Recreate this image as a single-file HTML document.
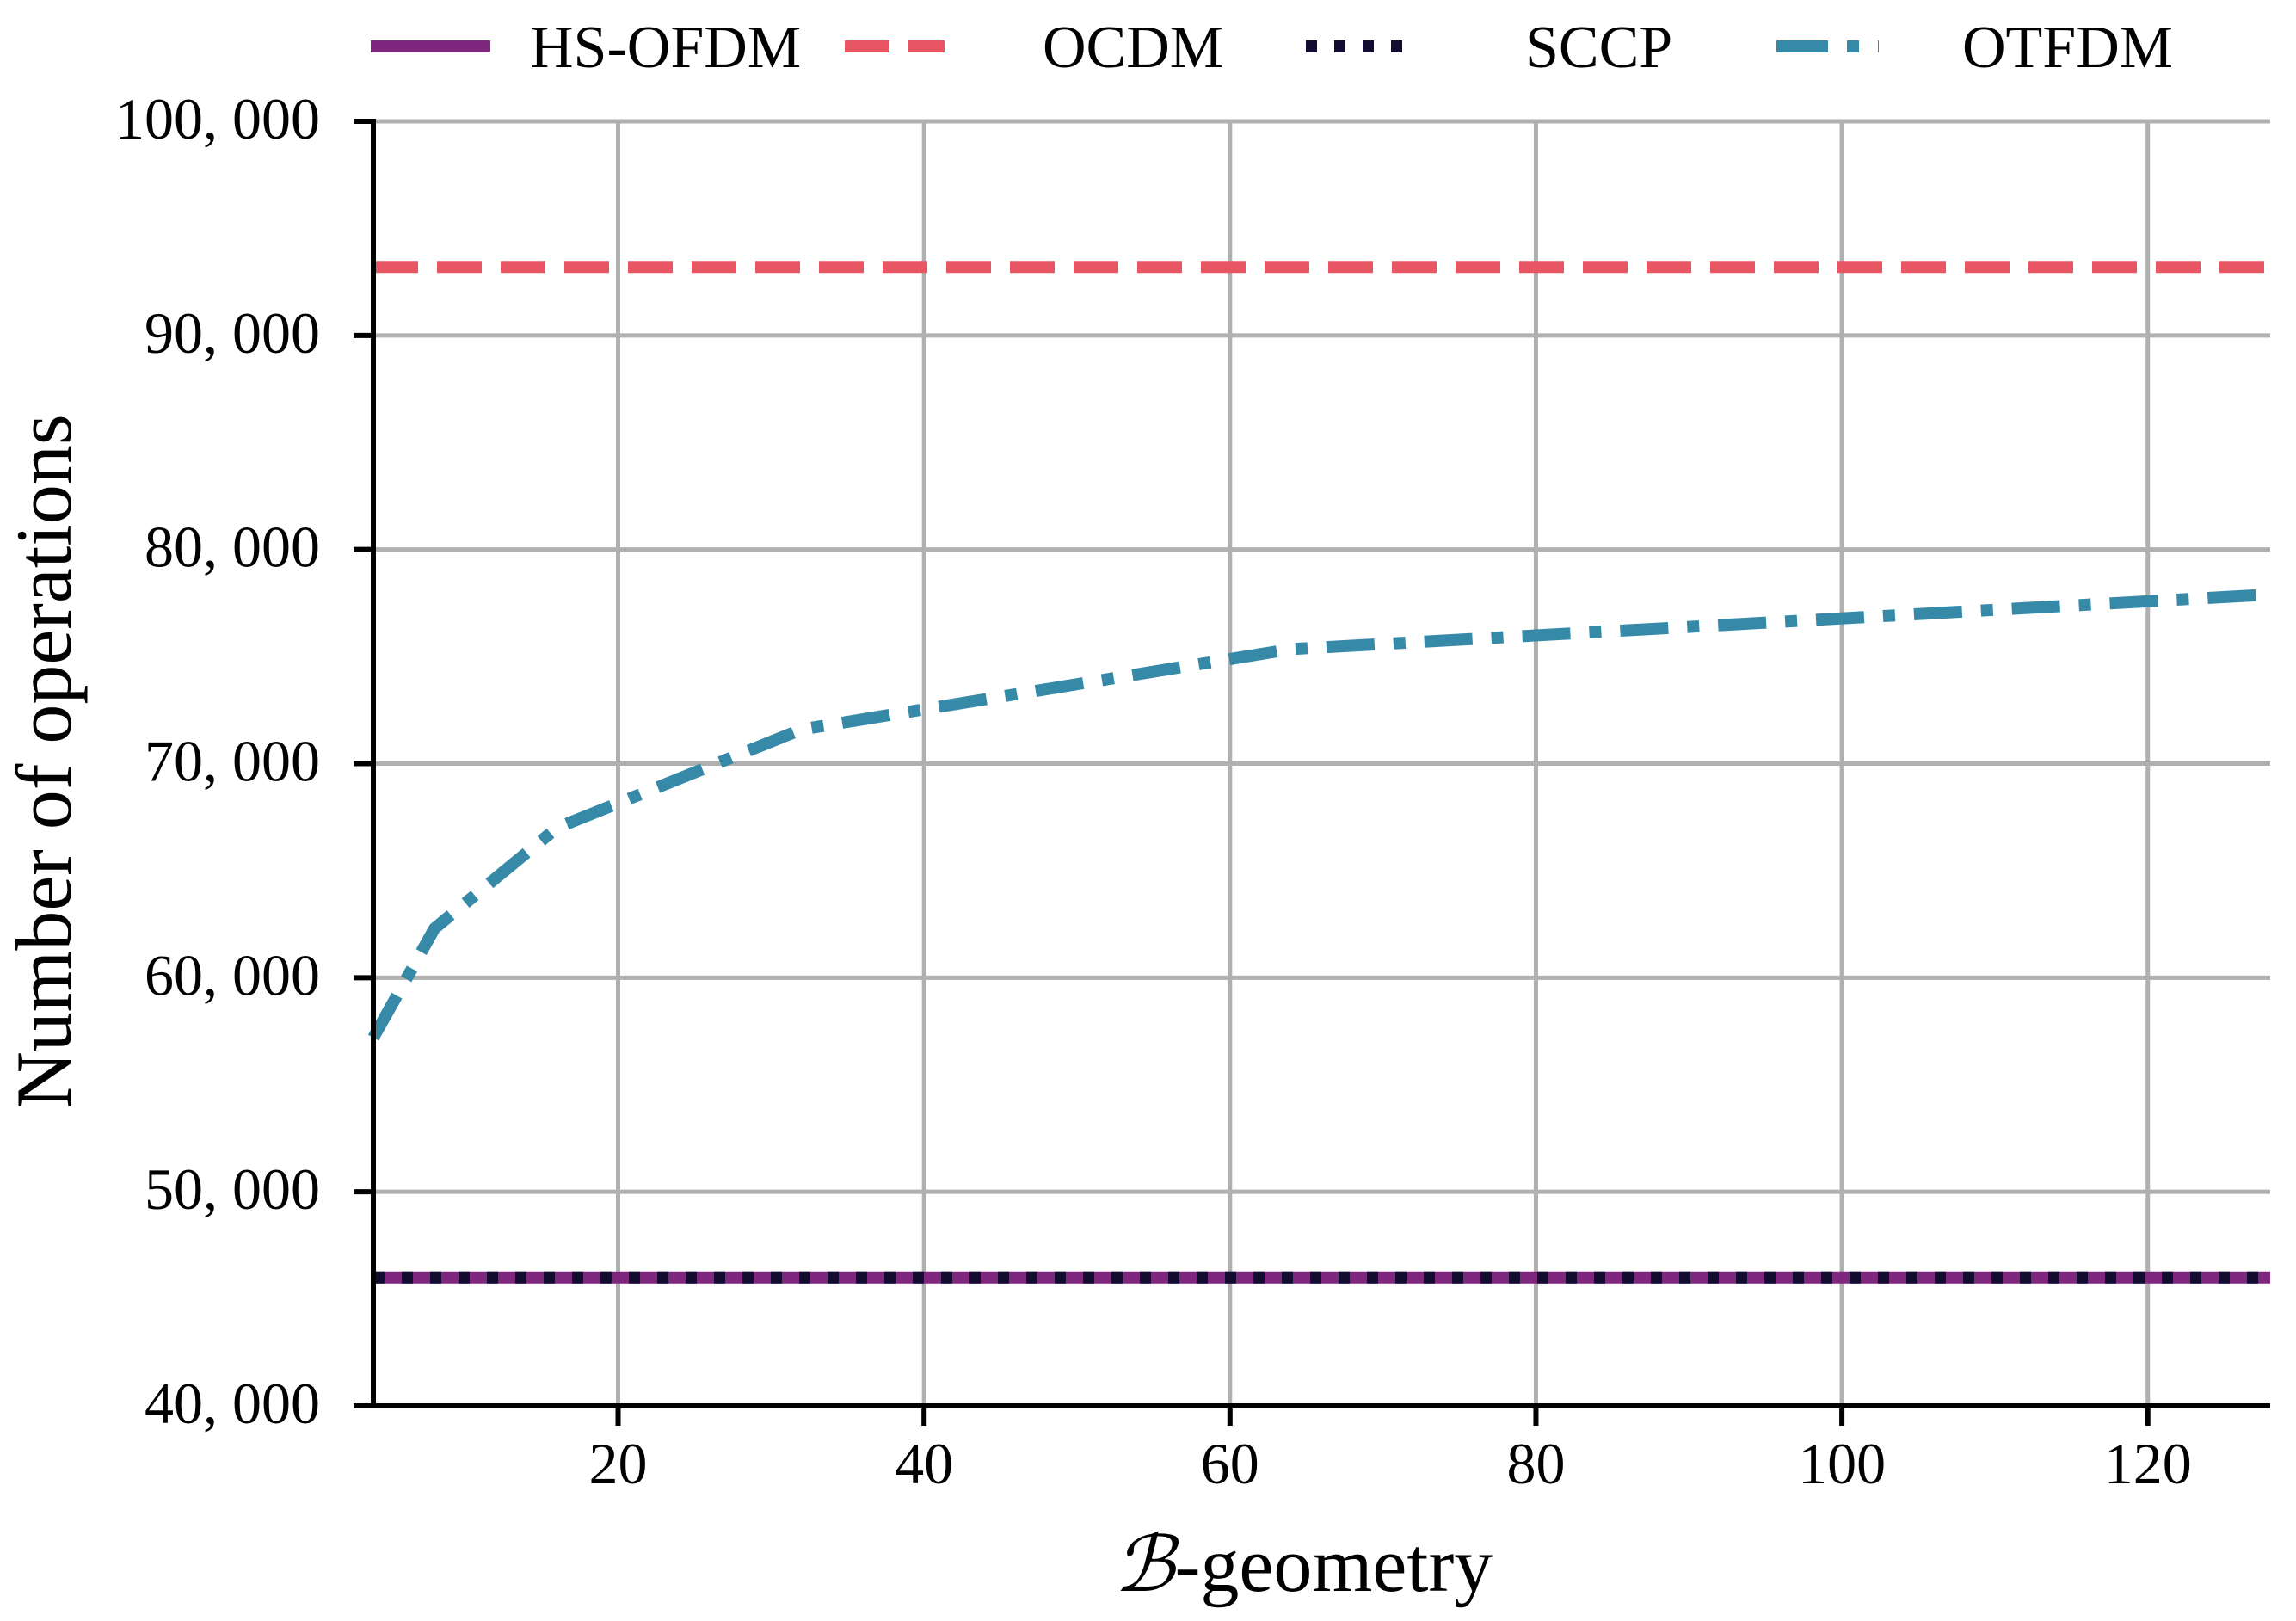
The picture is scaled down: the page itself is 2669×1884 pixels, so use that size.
<!DOCTYPE html>
<html><head><meta charset="utf-8"><style>
html,body{margin:0;padding:0;background:#fff;}
svg{display:block;font-family:"Liberation Serif",serif;}
</style></head><body>
<svg id="chart" width="2669" height="1884" viewBox="0 0 2669 1884" xmlns="http://www.w3.org/2000/svg">
<g id="grid"></g>
<g id="series"></g>
<g id="axes"></g>
<text x="1515" y="1849" font-size="90" text-anchor="middle"><tspan font-style="italic">ℬ</tspan>-geometry</text>
<text transform="translate(82,885) rotate(-90)" font-size="92" text-anchor="middle">Number of operations</text>
<g id="legend"></g>
</svg>
<script>
const xTicks = [20, 40, 60, 80, 100, 120];
const yTicks = [40000, 50000, 60000, 70000, 80000, 90000, 100000];
const seriesNames = ["HS-OFDM", "OCDM", "SCCP", "OTFDM"];
const hsX = [4, 128];
const hsY = [46000, 46000];
const ocdmX = [4, 128];
const ocdmY = [93200, 93200];
const sccpX = [4, 128];
const sccpY = [46000, 46000];
const otfdmX = [4, 8, 16, 32, 64, 128];
const otfdmY = [57200, 62300, 67000, 71600, 75350, 77900];

const NS = "http://www.w3.org/2000/svg";
const L = 434, R = 2639, T = 141, B = 1634;
const xMin = 4, xMax = 128, yMin = 40000, yMax = 100000;
function xs(v){ return L + (v - xMin) / (xMax - xMin) * (R - L); }
function ys(v){ return B - (v - yMin) / (yMax - yMin) * (B - T); }
function mk(tag, attrs, parent){
  const e = document.createElementNS(NS, tag);
  for (const k in attrs) e.setAttribute(k, attrs[k]);
  parent.appendChild(e);
  return e;
}
const grid = document.getElementById('grid');
const axes = document.getElementById('axes');
const series = document.getElementById('series');
const legend = document.getElementById('legend');

xTicks.forEach(t => {
  const g = mk('line', {x1: xs(t), x2: xs(t), y1: T, y2: B, stroke: '#b0b0b0', 'stroke-width': 5}, grid);
  
  
  const tk = mk('line', {x1: xs(t), x2: xs(t), y1: B, y2: B + 23, stroke: '#000', 'stroke-width': 6}, axes);
  
  
  const lb = mk('text', {x: xs(t), y: B + 90, 'font-size': 68, 'text-anchor': 'middle'}, axes);
  lb.textContent = String(t);
  
  
});
yTicks.forEach(t => {
  const g = mk('line', {x1: L, x2: R, y1: ys(t), y2: ys(t), stroke: '#b0b0b0', 'stroke-width': 5}, grid);
  
  
  const tk = mk('line', {x1: L - 23, x2: L, y1: ys(t), y2: ys(t), stroke: '#000', 'stroke-width': 6}, axes);
  
  
  const lb = mk('text', {x: 372, y: ys(t) + 20, 'font-size': 68, 'text-anchor': 'end'}, axes);
  lb.textContent = (t / 1000) + ', 000';
  
  
});
const ax = mk('line', {x1: L, x2: L, y1: T - 3, y2: B + 3, stroke: '#000', 'stroke-width': 6}, axes);


const bx = mk('line', {x1: L - 3, x2: R, y1: B, y2: B, stroke: '#000', 'stroke-width': 6}, axes);



function pts(X, Y){ return X.map((v, i) => xs(v) + ',' + ys(Y[i])).join(' '); }
const styles = [
  {X: hsX, Y: hsY, c: '#7f277f', d: 'none', n: 'hs-ofdm-line'},
  {X: ocdmX, Y: ocdmY, c: '#e85664', d: '52,22', n: 'ocdm-line'},
  {X: sccpX, Y: sccpY, c: '#120c30', d: '13,20', n: 'sccp-line'},
  {X: otfdmX, Y: otfdmY, c: '#368aa8', d: '56,22,14,22', n: 'otfdm-line'}
];
styles.forEach(s => {
  const p = mk('polyline', {points: pts(s.X, s.Y), fill: 'none', stroke: s.c, 'stroke-width': 14, 'stroke-dasharray': s.d, 'stroke-linejoin': 'round'}, series);
  
  
});

const legLines = [[431, 570], [982, 1098], [1518, 1642], [2065, 2184]];
const legText = [616, 1212, 1773, 2281];
const legDash = ['none', '52,22', '13,20', '60,22,14,22'];
styles.forEach((s, i) => {
  const l = mk('line', {x1: legLines[i][0], x2: legLines[i][1], y1: 54, y2: 54, stroke: s.c, 'stroke-width': 14, 'stroke-dasharray': legDash[i]}, legend);
  
  
  const t = mk('text', {x: legText[i], y: 78, 'font-size': 70}, legend);
  t.textContent = seriesNames[i];
  
  
});
</script>
</body></html>
